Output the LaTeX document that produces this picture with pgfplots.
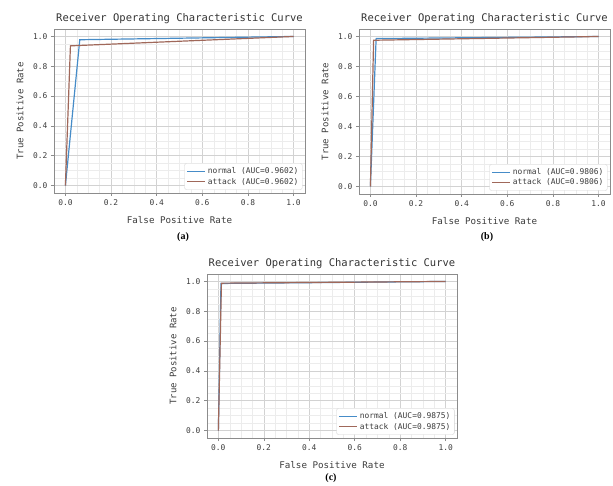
\documentclass[border=0pt]{standalone}
\usepackage{fontspec}
\setmainfont{DejaVu Sans Mono}
\newfontfamily\capfont{Liberation Serif}
\usepackage{pgfplots}
\pgfplotsset{compat=1.18}
\definecolor{rocblue}{RGB}{70,140,200}
\definecolor{rocbrown}{RGB}{160,104,90}
\definecolor{framegray}{RGB}{140,140,140}
\definecolor{majgrid}{RGB}{210,210,210}
\definecolor{mingrid}{RGB}{236,236,236}
\definecolor{txtgray}{RGB}{60,60,60}
\pgfplotsset{
  rocstyle/.style={
    anchor=south west, scale only axis,
    xmin=-0.05, xmax=1.05, ymin=-0.05, ymax=1.05,
    xtick={0,0.2,0.4,0.6,0.8,1.0}, ytick={0,0.2,0.4,0.6,0.8,1.0},
    minor tick num=3,
    grid=both,
    major grid style={draw=majgrid, line width=0.5pt},
    minor grid style={draw=mingrid, line width=0.4pt},
    axis line style={draw=framegray, line width=0.8pt},
    tick align=outside, major tick length=3pt, minor tick length=0pt,
    tick style={draw=framegray, line width=0.6pt},
    xtick pos=bottom, ytick pos=left,
    /pgf/number format/assume math mode=true,
    /pgf/number format/.cd, fixed, fixed zerofill, precision=1, /pgfplots/.cd,
    ticklabel style={font=\fontsize{7.9}{9}\selectfont, text=txtgray},
    title style={font=\fontsize{10.5}{12}\selectfont, text=black!80, at={(axis description cs:0.5,1)}, anchor=south, yshift=-4pt},
    xlabel style={font=\fontsize{9.2}{11}\selectfont, text=txtgray, at={(axis description cs:0.5,0)}, anchor=center, yshift=-27pt},
    ylabel style={font=\fontsize{9}{11}\selectfont, text=txtgray, at={(axis description cs:0,0.5)}, anchor=center, yshift=34pt},
    title={Receiver Operating Characteristic Curve},
    xlabel={False Positive Rate},
    ylabel={True Positive Rate},
    legend style={at={(axis description cs:0.99,0.02)}, anchor=south east,
      draw=majgrid, rounded corners=2pt, fill=white, font=\fontsize{7.9}{9}\selectfont, text=txtgray,
      row sep=-1pt, inner sep=2pt},
    legend cell align=left,
    legend image code/.code={\draw[#1, line width=1.4pt] (0pt,0pt) -- (18pt,0pt);},
    every axis plot/.append style={line width=1.2pt, no marks},
  }
}
\begin{document}
\begin{tikzpicture}
\path[use as bounding box] (0,0) rectangle (613pt,485pt);
% (a)
\begin{axis}[rocstyle, at={(54pt,292pt)}, width=251pt, height=164pt]
\addplot[rocblue] coordinates {(0,0) (0.063,0.978) (1,1)};
\addlegendentry{normal (AUC=0.9602)}
\addplot[rocbrown] coordinates {(0,0) (0.022,0.937) (1,1)};
\addlegendentry{attack (AUC=0.9602)}
\end{axis}
% (b)
\begin{axis}[rocstyle, at={(359pt,291pt)}, width=251pt, height=165pt]
\addplot[rocblue] coordinates {(0,0) (0.025,0.986) (1,1)};
\addlegendentry{normal (AUC=0.9806)}
\addplot[rocbrown] coordinates {(0,0) (0.014,0.975) (1,1)};
\addlegendentry{attack (AUC=0.9806)}
\end{axis}
% (c)
\begin{axis}[rocstyle, at={(207pt,47pt)}, width=250pt, height=164pt]
\addplot[rocblue] coordinates {(0,0) (0.0115,0.9865) (1,1)};
\addlegendentry{normal (AUC=0.9875)}
\addplot[rocbrown] coordinates {(0,0) (0.0135,0.9885) (1,1)};
\addlegendentry{attack (AUC=0.9875)}
\end{axis}
\node[font=\capfont\bfseries\fontsize{10}{12}\selectfont] at (183pt,248pt) {(a)};
\node[font=\capfont\bfseries\fontsize{10}{12}\selectfont] at (487pt,248pt) {(b)};
\node[font=\capfont\bfseries\fontsize{10}{12}\selectfont] at (331pt,7pt) {(c)};
\end{tikzpicture}
\end{document}
